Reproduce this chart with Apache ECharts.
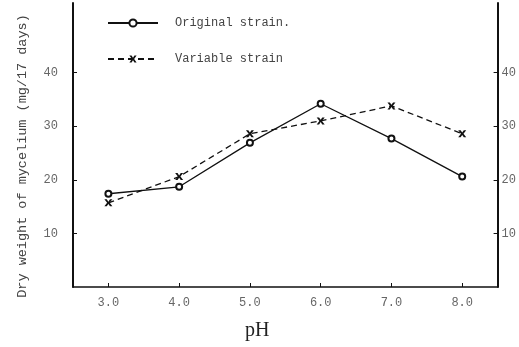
<!DOCTYPE html>
<html>
<head>
<meta charset="utf-8">
<script src="https://cdn.jsdelivr.net/npm/echarts@6/dist/echarts.min.js"></script>
<style>
html, body { margin: 0; padding: 0; background: #fff; }
#chart { width: 519px; height: 347px; }
</style>
</head>
<body>
<div id="chart"></div>
<script>
// pH values on the x axis
var phLabels = ["3.0", "4.0", "5.0", "6.0", "7.0", "8.0"];
// dry weight (mg/17 days)
var originalStrain = [17.4, 18.7, 26.9, 34.2, 27.7, 20.6];
var variableStrain = [15.7, 20.6, 28.6, 31.0, 33.8, 28.6];
var yTicks = [10, 20, 30, 40];

var mono = "Liberation Mono";
var xSymbol = "path://M0,0L3,0L5,2.6L7,0L10,0L6.6,4L10,8L7,8L5,5.4L3,8L0,8L3.4,4Z";

var chart = echarts.init(document.getElementById("chart"), null, { renderer: "canvas" });

var option = {
    backgroundColor: "#fff",
    animation: false,
    legend: {
        orient: "vertical",
        left: 102,
        top: 12,
        itemGap: 24,
        itemWidth: 50,
        itemHeight: 9,
        textStyle: {
            fontFamily: mono,
            fontSize: 12,
            color: "#444",
            padding: [0, 0, 0, 12]
        },
        data: ["Original strain.", "Variable strain"]
    },
    grid: {
        left: 73,
        right: 18,
        top: 3,
        bottom: 60
    },
    xAxis: {
        type: "category",
        data: phLabels,
        boundaryGap: true,
        name: "pH",
        nameLocation: "middle",
        nameGap: 34,
        nameTextStyle: {
            fontFamily: "Liberation Serif",
            fontSize: 20,
            color: "#222",
            padding: [0, 56, 0, 0]
        },
        axisLine: { show: true, lineStyle: { color: "#111", width: 1.5 } },
        axisTick: { show: true, inside: true, length: 4, alignWithLabel: true, lineStyle: { color: "#111" } },
        axisLabel: {
            margin: 10,
            fontFamily: mono,
            fontSize: 12,
            color: "#666"
        },
        splitLine: { show: false }
    },
    yAxis: [
        {
            type: "value",
            position: "left",
            min: 0,
            max: 53,
            interval: 10,
            axisLine: { show: true, lineStyle: { color: "#111", width: 2 } },
            axisTick: { show: true, inside: true, length: 4, customValues: yTicks, lineStyle: { color: "#111" } },
            axisLabel: {
                margin: 15,
                customValues: yTicks,
                fontFamily: mono,
                fontSize: 12,
                color: "#666"
            },
            splitLine: { show: false }
        },
        {
            type: "value",
            position: "right",
            min: 0,
            max: 53,
            interval: 10,
            axisLine: { show: true, lineStyle: { color: "#111", width: 2 } },
            axisTick: { show: true, inside: true, length: 4, customValues: yTicks, lineStyle: { color: "#111" } },
            axisLabel: {
                margin: 4,
                customValues: yTicks,
                fontFamily: mono,
                fontSize: 12,
                color: "#666"
            },
            splitLine: { show: false }
        }
    ],
    graphic: [
        {
            type: "text",
            x: 22,
            y: 156,
            rotation: Math.PI / 2,
            style: {
                text: "Dry weight of mycelium (mg/17 days)",
                font: "13.5px 'Liberation Mono'",
                fill: "#444",
                align: "center",
                verticalAlign: "middle"
            }
        }
    ],
    series: [
        {
            name: "Original strain.",
            type: "line",
            yAxisIndex: 0,
            data: originalStrain,
            symbol: "emptyCircle",
            symbolSize: 6,
            lineStyle: { color: "#111", width: 1.3, type: "solid" },
            itemStyle: { color: "#111", borderWidth: 1.4 }
        },
        {
            name: "Variable strain",
            type: "line",
            yAxisIndex: 0,
            data: variableStrain,
            symbol: xSymbol,
            symbolSize: [8, 7],
            lineStyle: { color: "#111", width: 1.3, type: [6, 4] },
            itemStyle: { color: "#111" }
        }
    ]
};

chart.setOption(option);
</script>
</body>
</html>
